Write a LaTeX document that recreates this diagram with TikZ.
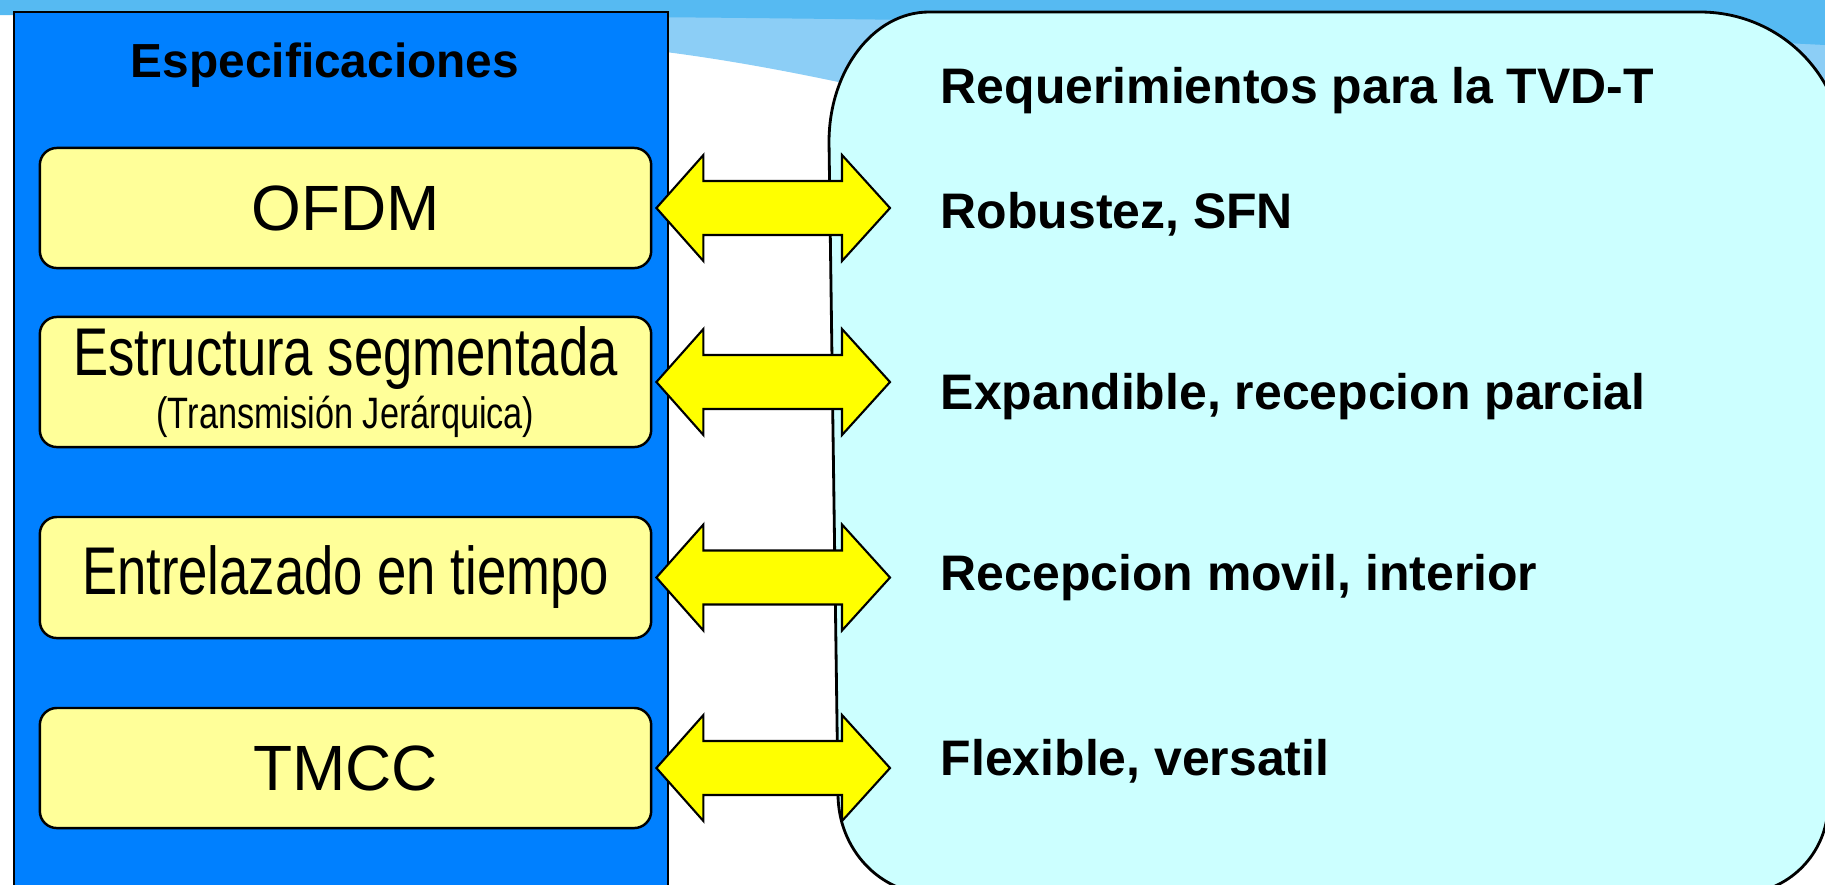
\documentclass[tikz,border=0pt]{standalone}
\usepackage{fontspec}
\setmainfont{Liberation Sans}
\newfontfamily\narrowfont[FakeStretch=0.78]{Liberation Sans}
\usetikzlibrary{calc}
\definecolor{bandblue}{RGB}{86,186,242}
\definecolor{swooshblue}{RGB}{140,206,246}
\definecolor{specblue}{RGB}{0,128,255}
\definecolor{boxyellow}{RGB}{255,255,153}
\definecolor{arrowyellow}{RGB}{255,255,0}
\definecolor{reqcyan}{RGB}{204,255,255}
\tikzset{
  specbox/.style={draw, line width=0.7pt, fill=boxyellow, rounded corners=0.17cm,
    minimum width=6.11cm, minimum height=1.2cm, inner sep=0pt, align=center},
  reqtext/.style={font=\bfseries\fontsize{14.2}{17}\selectfont, inner sep=0pt, anchor=base west},
  yarrow/.style={draw, line width=0.6pt, fill=arrowyellow, line join=miter}
}
\def\dblarrow(#1)(#2){
  \coordinate (L) at ($(#1.east)+(4,0)$);
  \coordinate (R) at ($(L -| #2.west)+(-50,0)$);
  \draw[yarrow] (L) -- ($(L)+(47,53)$) -- ($(L)+(47,27)$) -- ($(R)+(-48,27)$)
    -- ($(R)+(-48,53)$) -- (R) -- ($(R)+(-48,-53)$) -- ($(R)+(-48,-27)$)
    -- ($(L)+(47,-27)$) -- ($(L)+(47,-53)$) -- cycle;}

\begin{document}
\begin{tikzpicture}[x=0.01cm, y=0.01cm]
			%%%%% START %%%%%
			\useasboundingbox (0,0) rectangle (1825,-884);
			\clip (0,0) rectangle (1825,-884);
			
			% slide background
			\fill[swooshblue] (560,0) -- (1825,0) -- (1825,-120) -- (1100,-140) .. controls (950,-110) and (780,-60) .. (600,-45) -- (560,-40) -- cycle;
			\fill[bandblue] (0,0) -- (1825,0) -- (1825,-45) .. controls (1500,-28) and (1000,-20) .. (640,-17) -- (0,-15) -- cycle;
			
			% right panel
			\draw[line width=0.8pt, fill=reqcyan] (829,-142) arc[start angle=180, end angle=90, x radius=100, y radius=130]
			  -- (1700,-12) arc[start angle=90, end angle=0, x radius=143, y radius=140]
			  -- (1828,-804) arc[start angle=0, end angle=-90, x radius=90, y radius=90]
			  -- (932,-894) arc[start angle=270, end angle=180, x radius=94, y radius=100] -- cycle;
			
			% left panel
			\draw[line width=0.7pt, fill=specblue] (14,-12) rectangle (668,-900);
			\node[font=\bfseries\fontsize{13.6}{16}\selectfont, inner sep=0pt, anchor=base] (spec) at (325,-77) {Especificaciones};
			
			\node[specbox, font=\fontsize{18.2}{20}\selectfont] (ofdm) at (345.5,-208) {OFDM};
			\node[specbox, minimum height=1.3cm, font=\narrowfont\fontsize{19.2}{15.2}\selectfont] (estr) at (345.5,-382)
			  {Estructura segmentada\\ \fontsize{12.5}{15.2}\selectfont (Transmisión Jerárquica)};
			\node[specbox, minimum height=1.21cm, font=\narrowfont\fontsize{19.2}{22}\selectfont] (entr) at (345.5,-577.5) {Entrelazado en tiempo};
			\node[specbox, font=\fontsize{18.2}{20}\selectfont] (tmcc) at (345.5,-768) {TMCC};
			
			% requirements
			\node[reqtext] (req) at (940,-103) {Requerimientos para la TVD-T};
			\node[reqtext] (robust) at (940,-228) {Robustez, SFN};
			\node[reqtext] (expand) at (940,-409) {Expandible, recepcion parcial};
			\node[reqtext] (movil) at (940,-590) {Recepcion movil, interior};
			\node[reqtext] (flex) at (940,-775) {Flexible, versatil};
			
			% arrows
			\dblarrow(ofdm)(robust)
			\dblarrow(estr)(expand)
			\dblarrow(entr)(movil)
			\dblarrow(tmcc)(flex)
			%%%%% END %%%%%
\end{tikzpicture}
\end{document}
